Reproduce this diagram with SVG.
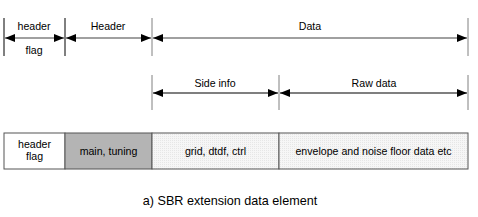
<svg xmlns="http://www.w3.org/2000/svg" width="478" height="217" viewBox="0 0 478 217">
<style>
text{font-family:"Liberation Sans",Arial,sans-serif;font-size:10.6px;fill:#000;text-anchor:middle}
.cap{font-size:12.6px}
.tk{stroke:#000;stroke-width:1}
.tkg{stroke:#808080;stroke-width:1}
.ag{stroke:#808080;stroke-width:1.5;fill:none}
.ab{stroke:#000;stroke-width:1.2;fill:none}
.box{stroke:#555;stroke-width:1}
</style>
<defs>
<marker id="ah" viewBox="0 0 10 8" refX="10" refY="4" markerWidth="11" markerHeight="8" markerUnits="userSpaceOnUse" orient="auto-start-reverse">
<path d="M0,0 L10,4 L0,8 Z" fill="#000"/>
</marker>
<pattern id="dots" width="2" height="2" patternUnits="userSpaceOnUse">
<rect width="2" height="2" fill="#f6f6f6"/>
<rect width="1" height="1" fill="#e6e6e6"/>
</pattern>
</defs>
<g id="ticks">
<line class="tk" x1="4" y1="18" x2="4" y2="56"/>
<line class="tk" x1="65" y1="18" x2="65" y2="56"/>
<line class="tkg" x1="152" y1="18" x2="152" y2="56"/>
<line class="tkg" x1="468" y1="18" x2="468" y2="56"/>
<line class="tkg" x1="152" y1="75" x2="152" y2="110"/>
<line class="tkg" x1="279" y1="75" x2="279" y2="110"/>
<line class="tkg" x1="468" y1="75" x2="468" y2="110"/>
</g>
<g id="connectors">
<line class="ag" x1="5" y1="38" x2="64" y2="38" marker-start="url(#ah)" marker-end="url(#ah)"/>
<line class="ag" x1="66" y1="38" x2="151" y2="38" marker-start="url(#ah)" marker-end="url(#ah)"/>
<line class="ag" x1="153" y1="38" x2="467" y2="38" marker-start="url(#ah)" marker-end="url(#ah)"/>
<line class="ab" x1="153" y1="93" x2="278" y2="93" marker-start="url(#ah)" marker-end="url(#ah)"/>
<line class="ab" x1="280" y1="93" x2="467" y2="93" marker-start="url(#ah)" marker-end="url(#ah)"/>
</g>
<g id="dim-labels">
<text x="34" y="30">header</text>
<text x="34" y="54">flag</text>
<text x="108" y="30">Header</text>
<text x="310" y="30">Data</text>
<text x="215" y="87">Side info</text>
<text x="374" y="87">Raw data</text>
</g>
<g id="box-header-flag">
<rect class="box" x="4" y="133" width="61" height="36" fill="#fff"/>
<text x="34.5" y="148">header</text>
<text x="34.5" y="160">flag</text>
</g>
<g id="box-main">
<rect class="box" x="65" y="133" width="87" height="36" fill="#b4b4b4"/>
<text x="108.5" y="155">main, tuning</text>
</g>
<g id="box-grid">
<rect class="box" x="152" y="133" width="127" height="36" fill="url(#dots)"/>
<text x="215.5" y="155">grid, dtdf, ctrl</text>
</g>
<g id="box-raw">
<rect class="box" x="279" y="133" width="189" height="36" fill="url(#dots)"/>
<text x="373.5" y="155">envelope and noise floor data etc</text>
</g>
<text class="cap" x="230" y="205">a) SBR extension data element</text>
</svg>
